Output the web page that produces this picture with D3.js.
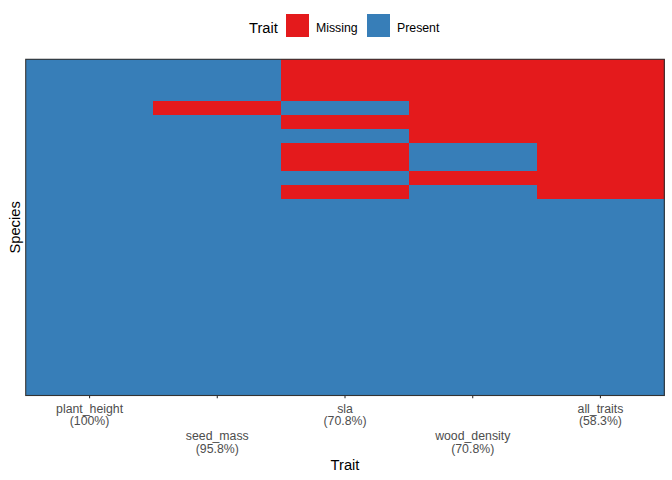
<!DOCTYPE html>
<html>
<head>
<meta charset="utf-8">
<script src="https://cdn.jsdelivr.net/npm/d3@7"></script>
<style>
  body { margin: 0; background: #fff; }
  text { font-family: "Liberation Sans", Arial, sans-serif; }
</style>
</head>
<body>
<svg id="chart" width="672" height="480"></svg>
<script>
// traits on the x axis (all_traits is derived below)
const traits = ["plant_height", "seed_mass", "sla", "wood_density", "all_traits"];
const species = d3.range(1, 25).map(function(i){ return "sp" + String(i).padStart(2, "0"); });

// 1 = missing, 0 = present, one entry per species (top to bottom)
const plantHeight = [0,0,0,0,0,0,0,0,0,0,0,0,0,0,0,0,0,0,0,0,0,0,0,0];
const seedMass    = [0,0,0,1,0,0,0,0,0,0,0,0,0,0,0,0,0,0,0,0,0,0,0,0];
const sla         = [1,1,1,0,1,0,1,1,0,1,0,0,0,0,0,0,0,0,0,0,0,0,0,0];
const woodDensity = [1,1,1,1,1,1,0,0,1,0,0,0,0,0,0,0,0,0,0,0,0,0,0,0];

const statusLevels = ["Missing", "Present"];
const statusColors = ["#E41A1C", "#377EB8"];

let allTraits = species.map(function(d, i){
    return (plantHeight[i] || seedMass[i] || sla[i] || woodDensity[i]) ? 1 : 0;
});
let traitValues = [plantHeight, seedMass, sla, woodDensity, allTraits];

let cells = [];
traits.forEach(function(t, j){
    species.forEach(function(s, i){
        cells.push({trait: t, species: s, status: traitValues[j][i] ? "Missing" : "Present"});
    });
});

function pctLabel(arr){
    let p = 100 * (arr.length - d3.sum(arr)) / arr.length;
    return "(" + (Math.round(p * 10) / 10) + "%)";
}

const svg = d3.select("#chart");
const pLeft = 25.7, pRight = 664.3, pTop = 59.3, pBottom = 395.5;

const x = d3.scaleBand().domain(traits).range([pLeft, pRight]).padding(0);
const y = d3.scaleBand().domain(species).range([pTop, pBottom]).padding(0);
const color = d3.scaleOrdinal().domain(statusLevels).range(statusColors);

svg.append("g")
    .attr("shape-rendering", "crispEdges")
    .selectAll("rect")
    .data(cells)
    .enter()
    .append("rect")
    .attr("x", function(d){ return x(d.trait); })
    .attr("y", function(d){ return y(d.species); })
    .attr("width", x.bandwidth() + 0.5)
    .attr("height", y.bandwidth() + 0.5)
    .attr("fill", function(d){ return color(d.status); });

// panel border
svg.append("rect")
    .attr("x", pLeft).attr("y", pTop)
    .attr("width", pRight - pLeft).attr("height", pBottom - pTop)
    .attr("fill", "none")
    .attr("stroke", "#333333")
    .attr("stroke-width", 1.1);

// x axis with dodged two-line labels
let xAxis = svg.append("g")
    .attr("transform", "translate(0," + pBottom + ")")
    .call(d3.axisBottom(x).tickSize(2.7).tickFormat(""));
xAxis.select(".domain").remove();
xAxis.selectAll(".tick line").attr("stroke", "#333333").attr("stroke-width", 1.1);

xAxis.selectAll(".tick")
    .append("text")
    .attr("fill", "#4D4D4D")
    .attr("font-size", "12.3px")
    .attr("text-anchor", "middle")
    .each(function(d, i){
        let base = (i % 2 === 0) ? 17.2 : 44.5;
        let t = d3.select(this);
        t.append("tspan").attr("x", 0).attr("y", base).text(d);
        t.append("tspan").attr("x", 0).attr("y", base + 12.6).text(pctLabel(traitValues[i]));
    });

// axis titles
svg.append("text")
    .attr("x", (pLeft + pRight) / 2).attr("y", 470)
    .attr("text-anchor", "middle")
    .attr("font-size", "14.7px")
    .attr("fill", "#000")
    .text("Trait");

svg.append("text")
    .attr("transform", "translate(20," + ((pTop + pBottom) / 2) + ") rotate(-90)")
    .attr("text-anchor", "middle")
    .attr("font-size", "14.7px")
    .attr("fill", "#000")
    .text("Species");

// legend on top
let legend = svg.append("g");
legend.append("text")
    .attr("x", 249).attr("y", 33)
    .attr("font-size", "14.7px")
    .attr("fill", "#000")
    .text("Trait");

let legendX = [286, 367];
statusLevels.forEach(function(s, i){
    legend.append("rect")
        .attr("x", legendX[i]).attr("y", 14)
        .attr("width", 23).attr("height", 23)
        .attr("fill", color(s));
    legend.append("text")
        .attr("x", legendX[i] + 30).attr("y", 31.5)
        .attr("font-size", "12.3px")
        .attr("fill", "#000")
        .text(s);
});
</script>
</body>
</html>
